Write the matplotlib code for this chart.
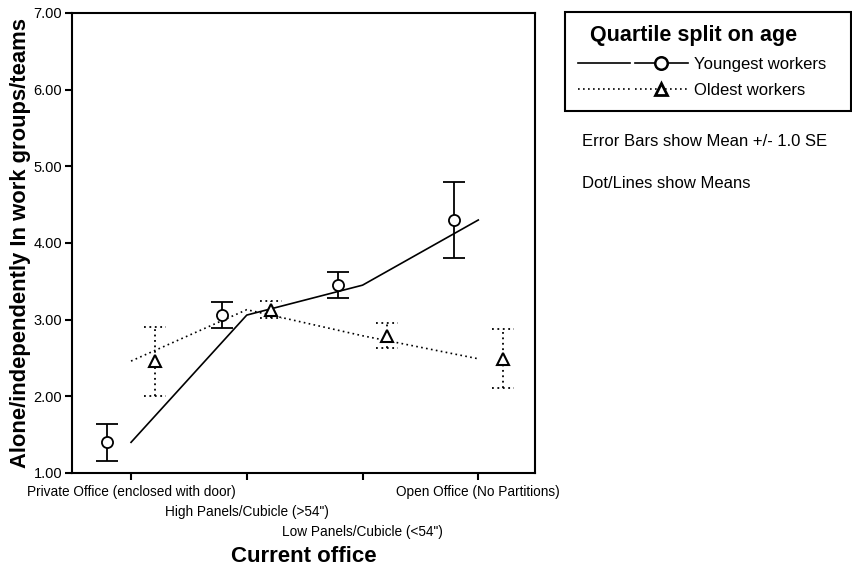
import numpy as np
import matplotlib
matplotlib.use('Agg')
import matplotlib.pyplot as plt
from matplotlib.lines import Line2D
from matplotlib.legend_handler import HandlerTuple

plt.rcParams['font.family'] = ['Liberation Sans', 'DejaVu Sans']

# categories of the x axis
offices = ['Private Office (enclosed with door)',
           'High Panels/Cubicle (>54")',
           'Low Panels/Cubicle (<54")',
           'Open Office (No Partitions)']

# means and standard errors
young_mean = [1.40, 3.06, 3.45, 4.30]
young_se = [0.24, 0.165, 0.17, 0.50]
old_mean = [2.46, 3.13, 2.79, 2.49]
old_se = [0.45, 0.11, 0.165, 0.385]

fig = plt.figure(figsize=(8.52, 5.69), dpi=100)
ax = fig.add_axes([72/852, 1 - 473/569, (535 - 72)/852, (473 - 13)/569])

x = np.arange(len(offices))
off = 0.21
cap = 0.095
dots = (0, (1, 2))

# lines through the category centres
ax.plot(x, young_mean, color='black', lw=1.2, ls='-')
ax.plot(x, old_mean, color='black', lw=1.2, ls=dots)

# error bars, offset left/right of the category
xy = x - off
xo = x + off
ym, ys = np.array(young_mean), np.array(young_se)
om, os_ = np.array(old_mean), np.array(old_se)

ax.vlines(xy, ym - ys, ym + ys, color='black', lw=1.3)
ax.hlines(ym - ys, xy - cap, xy + cap, color='black', lw=1.3)
ax.hlines(ym + ys, xy - cap, xy + cap, color='black', lw=1.3)

ax.vlines(xo, om - os_, om + os_, color='black', lw=1.3, linestyles=dots)
ax.hlines(om - os_, xo - cap, xo + cap, color='black', lw=1.3, linestyles=dots)
ax.hlines(om + os_, xo - cap, xo + cap, color='black', lw=1.3, linestyles=dots)

ax.plot(xy, young_mean, ls='none', marker='o', ms=8, mfc='white', mec='black', mew=1.3, zorder=5)
ax.plot(xo, old_mean, ls='none', marker='^', ms=8, mfc='white', mec='black', mew=1.5, zorder=5)

ax.set_xlim(-0.51, 3.49)
ax.set_ylim(1, 7)
ax.set_yticks(np.arange(1, 8))
ax.set_yticklabels(['%.2f' % v for v in np.arange(1, 8)], fontsize=10.5)
ax.set_xticks(x)
ax.set_xticklabels(offices, fontsize=9.8)
ax.tick_params(direction='out', length=5, width=1.5)
ax.tick_params(axis='y', pad=2)
# staggered category labels
for t, p in zip(ax.xaxis.get_major_ticks(), [3.5, 18, 32.5, 3.5]):
    t.set_pad(p)
for s in ax.spines.values():
    s.set_linewidth(1.5)

ax.set_ylabel('Alone/independently In work groups/teams', fontsize=15.8,
              fontweight='bold', labelpad=2)
ax.set_xlabel('Current office', fontsize=16, fontweight='bold', labelpad=5)

# legend: plain line segment + line with marker
h_young = (Line2D([], [], color='black', lw=1.2),
           Line2D([], [], color='black', lw=1.2, marker='o', ms=9, mfc='white', mew=1.8))
h_old = (Line2D([], [], color='black', lw=1.2, ls=dots),
         Line2D([], [], color='black', lw=1.2, ls=dots, marker='^', ms=9,
                mfc='white', mew=2.0))
leg = fig.legend([h_young, h_old], ['Youngest workers', 'Oldest workers'],
                 handler_map={tuple: HandlerTuple(ndivide=None, pad=0.3)},
                 loc='upper left', bbox_to_anchor=(565/852, 1 - 12/569 - 0.01, 286/852, 0.01),
                 mode='expand', fancybox=False, edgecolor='black', framealpha=1,
                 fontsize=12, handlelength=6.6, handletextpad=0.4,
                 borderpad=0.75, labelspacing=0.68, borderaxespad=0,
                 title='  Quartile split on age', alignment='left')
leg.get_title().set_fontsize(15.5)
leg.get_title().set_fontweight('bold')
leg.get_frame().set_linewidth(1.5)

fig.text(582/852, 1 - 141/569, 'Error Bars show Mean +/- 1.0 SE', fontsize=12, va='center')
fig.text(582/852, 1 - 183/569, 'Dot/Lines show Means', fontsize=12, va='center')

fig.savefig('out.png', dpi=100)
